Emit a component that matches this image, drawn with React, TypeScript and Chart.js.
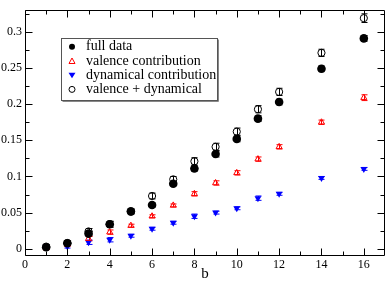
import React, { useEffect, useRef } from "react";
import { Chart, registerables } from "chart.js";

Chart.register(...registerables);

const bValues = [1, 2, 3, 4, 5, 6, 7, 8, 9, 10, 11, 12, 14, 16];
const fullData = [0.002, 0.0076, 0.021, 0.034, 0.052, 0.0606, 0.09, 0.111, 0.131, 0.152, 0.18, 0.203, 0.249, 0.291];
const fullErr = [0.003, 0.003, 0.003, 0.004, 0.003, 0.003, 0.003, 0.004, 0.004, 0.004, 0.004, 0.004, 0.004, 0.004];
const valence = [0.001, 0.006, 0.014, 0.023, 0.032, 0.045, 0.06, 0.076, 0.091, 0.105, 0.124, 0.141, 0.175, 0.209];
const valenceErr = [0.001, 0.002, 0.003, 0.003, 0.002, 0.002, 0.002, 0.003, 0.003, 0.003, 0.003, 0.003, 0.003, 0.004];
const dynamical = [0.002, 0.003, 0.009, 0.0125, 0.018, 0.0277, 0.036, 0.045, 0.05, 0.056, 0.07, 0.076, 0.098, 0.1105];
const dynamicalErr = [0.002, 0.002, 0.003, 0.003, 0.002, 0.002, 0.002, 0.003, 0.002, 0.002, 0.003, 0.002, 0.002, 0.002];
const sumData = [0.003, 0.008, 0.024, 0.034, 0.051, 0.073, 0.096, 0.121, 0.141, 0.162, 0.193, 0.217, 0.271, 0.319];
const sumErr = [0.003, 0.003, 0.004, 0.004, 0.003, 0.004, 0.004, 0.005, 0.005, 0.005, 0.005, 0.005, 0.005, 0.006];

const legendLabels = ["full data", "valence contribution", "dynamical contribution", "valence + dynamical"];
const xTicks = [0, 2, 4, 6, 8, 10, 12, 14, 16];
const xMinorTicks = [1, 3, 5, 7, 9, 11, 13, 15];
const yTicks = [0, 0.05, 0.1, 0.15, 0.2, 0.25, 0.3];
const yTickLabels = ["0", "0.05", "0.1", "0.15", "0.2", "0.25", "0.3"];
const yMinorTicks = [0.025, 0.075, 0.125, 0.175, 0.225, 0.275, 0.325];

const FONT = "'Liberation Serif', 'DejaVu Serif', serif";

const toPts = (ys: number[]) => bValues.map((x, i) => ({ x, y: ys[i] }));

const errorBarPlugin = {
  id: "errorBars",
  beforeDatasetsDraw(chart: any) {
    const ctx = chart.ctx;
    const xs = chart.scales.x;
    const ys = chart.scales.y;
    chart.data.datasets.forEach((ds: any) => {
      const errs: number[] = ds.errors;
      if (!errs) return;
      ctx.save();
      ctx.strokeStyle = ds.errColor;
      ctx.lineWidth = 1;
      ds.data.forEach((p: any, i: number) => {
        const px = Math.round(xs.getPixelForValue(p.x)) + 0.5;
        const y1 = ys.getPixelForValue(p.y - errs[i]);
        const y2 = ys.getPixelForValue(p.y + errs[i]);
        ctx.beginPath();
        ctx.moveTo(px, y1);
        ctx.lineTo(px, y2);
        ctx.moveTo(px - 3, y1);
        ctx.lineTo(px + 3, y1);
        ctx.moveTo(px - 3, y2);
        ctx.lineTo(px + 3, y2);
        ctx.stroke();
      });
      ctx.restore();
    });
  },
};

const framePlugin = {
  id: "frame",
  afterDraw(chart: any) {
    const ctx = chart.ctx;
    const { left, right, top, bottom } = chart.chartArea;
    const xs = chart.scales.x;
    const ys = chart.scales.y;
    ctx.save();
    ctx.strokeStyle = "#000";
    ctx.lineWidth = 1;
    ctx.beginPath();
    const L = Math.round(left) + 0.5;
    const R = Math.round(right) - 0.5;
    const T = Math.round(top) + 0.5;
    const B = Math.round(bottom) - 0.5;
    ctx.rect(L, T, R - L, B - T);
    const major = 7;
    const minor = 4;
    const xt = (v: number, len: number) => {
      const px = Math.round(xs.getPixelForValue(v)) + 0.5;
      ctx.moveTo(px, B);
      ctx.lineTo(px, B - len);
      ctx.moveTo(px, T);
      ctx.lineTo(px, T + len);
    };
    const yt = (v: number, len: number) => {
      const py = Math.round(ys.getPixelForValue(v)) + 0.5;
      ctx.moveTo(L, py);
      ctx.lineTo(L + len, py);
      ctx.moveTo(R, py);
      ctx.lineTo(R - len, py);
    };
    xTicks.forEach((v) => xt(v, major));
    xMinorTicks.forEach((v) => xt(v, minor));
    yTicks.forEach((v) => yt(v, major));
    yMinorTicks.forEach((v) => yt(v, minor));
    ctx.stroke();
    ctx.restore();

    // legend box
    const bx = 61.5, by = 38.5, bw = 156, bh = 62;
    ctx.save();
    ctx.strokeStyle = "#888";
    ctx.lineWidth = 1;
    ctx.beginPath();
    ctx.moveTo(bx + 1, by + bh + 1);
    ctx.lineTo(bx + bw + 1, by + bh + 1);
    ctx.lineTo(bx + bw + 1, by + 1);
    ctx.stroke();
    ctx.fillStyle = "#fff";
    ctx.fillRect(bx, by, bw, bh);
    ctx.strokeStyle = "#555";
    ctx.strokeRect(bx, by, bw, bh);
    ctx.font = "14px " + FONT;
    ctx.textBaseline = "middle";
    ctx.fillStyle = "#000";
    const rows = [46.7, 61, 75.2, 89.4];
    const mx = 72;
    legendLabels.forEach((lbl, i) => {
      const y = rows[i];
      ctx.save();
      if (i === 0) {
        ctx.fillStyle = "#000";
        ctx.beginPath();
        ctx.arc(mx, y, 3, 0, Math.PI * 2);
        ctx.fill();
      } else if (i === 1) {
        ctx.strokeStyle = "#ff0000";
        ctx.beginPath();
        ctx.moveTo(mx, y - 3);
        ctx.lineTo(mx + 3, y + 2.5);
        ctx.lineTo(mx - 3, y + 2.5);
        ctx.closePath();
        ctx.stroke();
      } else if (i === 2) {
        ctx.fillStyle = "#0000ff";
        ctx.beginPath();
        ctx.moveTo(mx, y + 3);
        ctx.lineTo(mx + 3.5, y - 2.5);
        ctx.lineTo(mx - 3.5, y - 2.5);
        ctx.closePath();
        ctx.fill();
      } else {
        ctx.strokeStyle = "#000";
        ctx.beginPath();
        ctx.arc(mx, y, 3, 0, Math.PI * 2);
        ctx.stroke();
      }
      ctx.restore();
      ctx.fillStyle = "#000";
      ctx.fillText(lbl, 86, y);
    });
    ctx.restore();
  },
};

export default function App() {
  const ref = useRef<HTMLCanvasElement>(null);
  useEffect(() => {
    if (!ref.current) return;
    const chart = new Chart(ref.current, {
      type: "scatter",
      data: {
        datasets: [
          {
            label: legendLabels[0],
            data: toPts(fullData),
            errors: fullErr,
            errColor: "#000",
            pointStyle: "circle",
            pointRadius: 4.3,
            backgroundColor: "#000",
            borderColor: "#000",
            borderWidth: 0,
          } as any,
          {
            label: legendLabels[1],
            data: toPts(valence),
            errors: valenceErr,
            errColor: "#ff0000",
            pointStyle: "triangle",
            pointRadius: 3.5,
            backgroundColor: "rgba(0,0,0,0)",
            borderColor: "#ff0000",
            borderWidth: 1,
          } as any,
          {
            label: legendLabels[2],
            data: toPts(dynamical),
            errors: dynamicalErr,
            errColor: "#0000ff",
            pointStyle: "triangle",
            rotation: 180,
            pointRotation: 180,
            pointRadius: 4,
            backgroundColor: "#0000ff",
            borderColor: "#0000ff",
            borderWidth: 0,
          } as any,
          {
            label: legendLabels[3],
            data: toPts(sumData),
            errors: sumErr,
            errColor: "#000",
            pointStyle: "circle",
            pointRadius: 3.6,
            backgroundColor: "rgba(0,0,0,0)",
            borderColor: "#000",
            borderWidth: 1,
          } as any,
        ],
      },
      options: {
        animation: false,
        responsive: false,
        layout: { padding: { top: 2, right: 1.5, left: 0, bottom: 0 } },
        plugins: { legend: { display: false }, tooltip: { enabled: false } },
        scales: {
          x: {
            type: "linear",
            min: 0,
            max: 17,
            grid: { display: false, drawTicks: false },
            border: { display: false },
            afterBuildTicks: (s: any) => {
              s.ticks = xTicks.map((v) => ({ value: v }));
            },
            afterFit: (s: any) => {
              s.height = 27;
            },
            ticks: {
              color: "#000",
              font: { family: FONT, size: 12 },
              padding: 2,
              maxRotation: 0,
              autoSkip: false,
              callback: (v: any) => String(v),
            },
            title: {
              display: true,
              text: "b",
              color: "#000",
              font: { family: FONT, size: 15 },
              padding: { top: 0, bottom: 0 },
            },
          },
          y: {
            type: "linear",
            min: -0.01,
            max: 0.33,
            grid: { display: false, drawTicks: false },
            border: { display: false },
            afterBuildTicks: (s: any) => {
              s.ticks = yTicks.map((v) => ({ value: v }));
            },
            afterFit: (s: any) => {
              s.width = 25;
            },
            ticks: {
              color: "#000",
              font: { family: FONT, size: 12 },
              padding: 3,
              autoSkip: false,
              callback: (v: any) => {
                const i = yTicks.findIndex((t) => Math.abs(t - v) < 1e-9);
                return i >= 0 ? yTickLabels[i] : "";
              },
            },
          },
        },
      } as any,
      plugins: [errorBarPlugin, framePlugin],
    });
    return () => chart.destroy();
  }, []);
  return (
    <div style={{ position: "absolute", left: 0, top: 0, width: 390, height: 283, background: "#fff" }}>
      <canvas ref={ref} width={390} height={283} style={{ display: "block" }} />
    </div>
  );
}
